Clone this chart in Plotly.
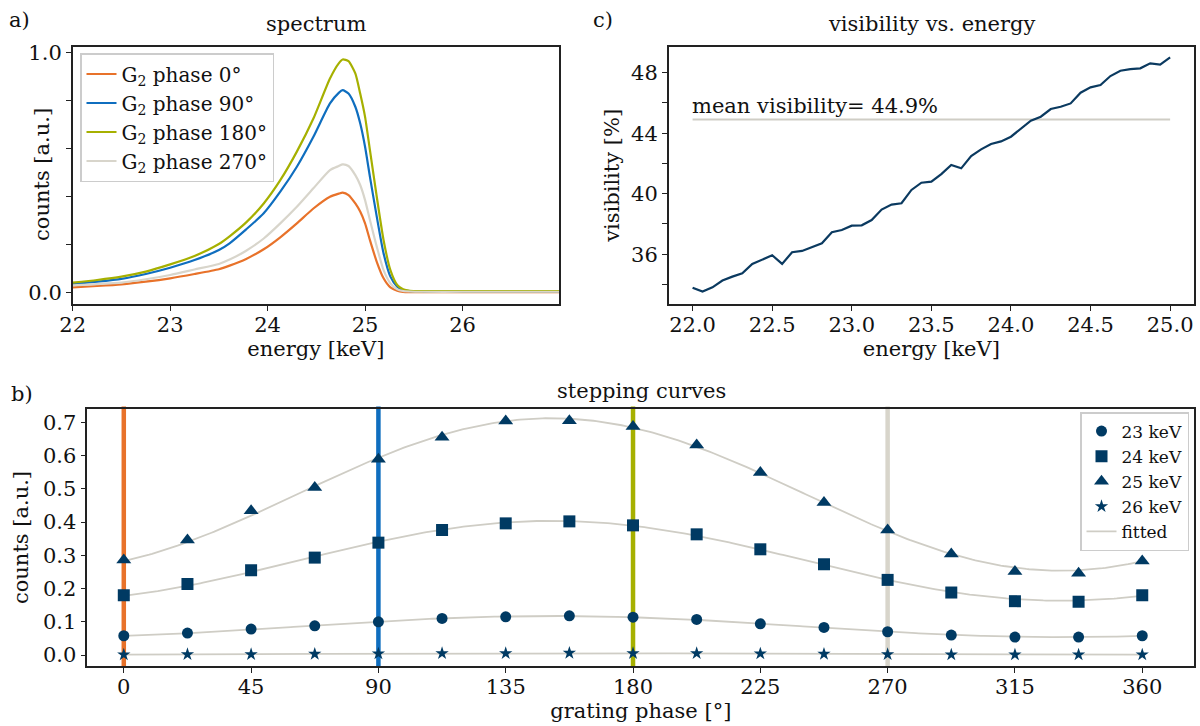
import numpy as np
import plotly.graph_objects as go

# ---------------- data ----------------
# panel a: spectrum
spec_energy = [22.0, 22.25, 22.5, 22.75, 23.0, 23.25, 23.5, 23.61, 23.78, 23.96, 24.13, 24.30,
               24.47, 24.64, 24.73, 24.77, 24.83, 24.90, 24.95, 25.0, 25.05, 25.12, 25.19, 25.26,
               25.33, 25.39, 25.46, 25.6, 26.0, 26.5, 26.99]
spec_phase0 = [0.022, 0.028, 0.035, 0.046, 0.060, 0.078, 0.098, 0.113, 0.141, 0.181, 0.231, 0.289,
               0.351, 0.400, 0.413, 0.417, 0.407, 0.372, 0.338, 0.289, 0.219, 0.129, 0.060, 0.022,
               0.008, 0.003, 0.002, 0.002, 0.002, 0.002, 0.002]
spec_phase90 = [0.036, 0.046, 0.058, 0.078, 0.104, 0.136, 0.178, 0.206, 0.264, 0.331, 0.421, 0.525,
                0.650, 0.789, 0.833, 0.844, 0.830, 0.775, 0.706, 0.608, 0.483, 0.317, 0.164, 0.067,
                0.025, 0.011, 0.007, 0.006, 0.006, 0.006, 0.006]
spec_phase180 = [0.042, 0.053, 0.067, 0.088, 0.118, 0.153, 0.203, 0.235, 0.293, 0.372, 0.469, 0.588,
                 0.726, 0.893, 0.956, 0.972, 0.965, 0.914, 0.830, 0.733, 0.594, 0.400, 0.219, 0.094,
                 0.032, 0.014, 0.008, 0.007, 0.007, 0.007, 0.007]
spec_phase270 = [0.031, 0.036, 0.042, 0.056, 0.074, 0.097, 0.120, 0.138, 0.175, 0.226, 0.289, 0.358,
                 0.435, 0.511, 0.528, 0.535, 0.528, 0.490, 0.449, 0.386, 0.303, 0.192, 0.094, 0.039,
                 0.014, 0.007, 0.005, 0.004, 0.004, 0.004, 0.004]
spec_labels = ["G<sub>2</sub> phase 0°", "G<sub>2</sub> phase 90°",
               "G<sub>2</sub> phase 180°", "G<sub>2</sub> phase 270°"]

# panel c: visibility vs energy
vis_energy = [22.0, 22.0625, 22.125, 22.1875, 22.25, 22.3125, 22.375, 22.4375, 22.5, 22.5625,
              22.625, 22.6875, 22.75, 22.8125, 22.875, 22.9375, 23.0, 23.0625, 23.125, 23.1875,
              23.25, 23.3125, 23.375, 23.4375, 23.5, 23.5625, 23.625, 23.6875, 23.75, 23.8125,
              23.875, 23.9375, 24.0, 24.0625, 24.125, 24.1875, 24.25, 24.3125, 24.375, 24.4375,
              24.5, 24.5625, 24.625, 24.6875, 24.75, 24.8125, 24.875, 24.9375, 25.0]
vis_values = [33.79, 33.53, 33.81, 34.26, 34.52, 34.74, 35.36, 35.62, 35.93, 35.36,
              36.13, 36.22, 36.46, 36.72, 37.45, 37.60, 37.89, 37.91, 38.26, 38.95,
              39.28, 39.37, 40.25, 40.73, 40.80, 41.30, 41.90, 41.68, 42.49, 42.93,
              43.29, 43.46, 43.77, 44.32, 44.83, 45.09, 45.60, 45.75, 45.97, 46.68,
              47.03, 47.19, 47.78, 48.13, 48.24, 48.29, 48.62, 48.53, 49.01]
mean_visibility = 44.9

# panel b: stepping curves
phase = [0, 22.5, 45, 67.5, 90, 112.5, 135, 157.5, 180, 202.5, 225, 247.5, 270, 292.5, 315, 337.5, 360]
step_23 = [0.058, 0.066, 0.078, 0.088, 0.100, 0.110, 0.115, 0.118, 0.114, 0.107, 0.094, 0.083,
           0.070, 0.060, 0.054, 0.054, 0.058]
step_24 = [0.180, 0.214, 0.255, 0.293, 0.338, 0.376, 0.396, 0.402, 0.390, 0.363, 0.318, 0.273,
           0.226, 0.188, 0.162, 0.160, 0.180]
step_25 = [0.286, 0.346, 0.434, 0.504, 0.589, 0.655, 0.704, 0.705, 0.687, 0.632, 0.549, 0.459,
           0.376, 0.304, 0.251, 0.246, 0.283]
step_26 = [0.001, 0.002, 0.002, 0.003, 0.004, 0.005, 0.005, 0.006, 0.005, 0.005, 0.004, 0.003,
           0.002, 0.001, 0.001, 0.001, 0.001]
step_labels = ["23 keV", "24 keV", "25 keV", "26 keV"]
marked_phases = [0, 90, 180, 270]

# ---------------- style ----------------
phase_colors = ["#e8722a", "#0f6ebf", "#a6b000", "#d8d5cb"]
navy = "#003a63"
fit_color = "#cfcdc5"
FONT = "DejaVu Serif"
FS = 21
TXT = "#111111"
W, H = 1200, 726


def dx(px):
    return px / W


def dy(py):
    return 1 - py / H


fig = go.Figure()

# panel a traces
for vals, lab, col in zip([spec_phase0, spec_phase90, spec_phase180, spec_phase270], spec_labels, phase_colors):
    fig.add_trace(go.Scatter(x=spec_energy, y=vals, mode="lines", name=lab,
                             line=dict(color=col, width=2.2, shape="spline", smoothing=0.6),
                             xaxis="x", yaxis="y", legend="legend"))

# panel c traces
fig.add_trace(go.Scatter(x=[vis_energy[0], vis_energy[-1]], y=[mean_visibility, mean_visibility],
                         mode="lines", line=dict(color=fit_color, width=2), showlegend=False,
                         xaxis="x2", yaxis="y2"))
fig.add_trace(go.Scatter(x=vis_energy, y=vis_values, mode="lines", line=dict(color="#0b3a60", width=2.2),
                         showlegend=False, xaxis="x2", yaxis="y2"))

# panel b: fitted sinusoids (least squares from the measured points)
ph = np.deg2rad(np.array(phase, dtype=float))
A = np.column_stack([np.ones_like(ph), np.cos(ph), np.sin(ph)])
phi_fine = np.linspace(0, 360, 361)
pf = np.deg2rad(phi_fine)
Af = np.column_stack([np.ones_like(pf), np.cos(pf), np.sin(pf)])
for i, vals in enumerate([step_23, step_24, step_25, step_26]):
    coef, *_ = np.linalg.lstsq(A, np.array(vals), rcond=None)
    fig.add_trace(go.Scatter(x=phi_fine, y=Af @ coef, mode="lines", line=dict(color=fit_color, width=1.8),
                             name="fitted", showlegend=(i == 0), legendrank=1005,
                             xaxis="x3", yaxis="y3", legend="legend2"))

symbols = ["circle", "square", "triangle-up", "star"]
sizes = [11, 12, 13, 10]
for k, (vals, lab, sym, sz) in enumerate(zip([step_23, step_24, step_25, step_26], step_labels, symbols, sizes)):
    fig.add_trace(go.Scatter(x=phase, y=vals, mode="markers", name=lab, legendrank=1000 + k,
                             marker=dict(symbol=sym, size=sz, color=navy, line=dict(width=0)),
                             xaxis="x3", yaxis="y3", legend="legend2"))

# vertical phase markers
for p, col in zip(marked_phases, phase_colors):
    fig.add_shape(type="line", x0=p, x1=p, y0=0, y1=1.01, xref="x3", yref="y3 domain",
                  line=dict(color=col, width=4.5), layer="below")

axis_common = dict(showline=True, linecolor="#222", linewidth=1.5, mirror=True, ticks="outside",
                   ticklen=5, tickwidth=1.3, tickcolor="#222", showgrid=False, zeroline=False,
                   automargin=False,
                   tickfont=dict(family=FONT, size=FS, color=TXT),
                   title_font=dict(family=FONT, size=FS, color=TXT))
minor_common = dict(ticks="outside", ticklen=5, tickwidth=1.3, tickcolor="#222", showgrid=False)

fig.update_layout(
    width=W, height=H, margin=dict(l=0, r=0, t=0, b=0, autoexpand=False), autosize=False,
    plot_bgcolor="white", paper_bgcolor="white",
    font=dict(family=FONT, size=FS, color=TXT),
    xaxis=dict(axis_common, domain=[dx(72.7), dx(559)], range=[22, 26.99],
               tickvals=[22, 23, 24, 25, 26], anchor="y", ticklabelstandoff=-4,
               title=dict(text="energy [keV]", standoff=1)),
    yaxis=dict(axis_common, domain=[dy(304), dy(47)], range=[-0.047, 1.024],
               tickvals=[0, 1.0], ticktext=["0.0", "1.0"], anchor="x",
               minor=dict(minor_common, tickvals=[0.2, 0.4, 0.6, 0.8])),
    xaxis2=dict(axis_common, domain=[dx(668.7), dx(1194)], range=[21.85, 25.15],
                tickvals=[22, 22.5, 23, 23.5, 24, 24.5, 25], ticklabelstandoff=-4,
                ticktext=["22.0", "22.5", "23.0", "23.5", "24.0", "24.5", "25.0"], anchor="y2",
                title=dict(text="energy [keV]", standoff=1)),
    yaxis2=dict(axis_common, domain=[dy(304), dy(46.7)], range=[32.71, 49.72],
                tickvals=[36, 40, 44, 48], anchor="x2",
                minor=dict(minor_common, tickvals=[34, 38, 42, 46]),
                title=dict(text="visibility [%]", standoff=6)),
    xaxis3=dict(axis_common, domain=[dx(87.3), dx(1194.3)], range=[-12.9, 378.4],
                tickvals=[0, 45, 90, 135, 180, 225, 270, 315, 360], anchor="y3", ticklabelstandoff=-4,
                title=dict(text="grating phase [°]", standoff=1)),
    yaxis3=dict(axis_common, domain=[dy(666), dy(409)], range=[-0.033, 0.740],
                tickvals=[0, 0.1, 0.2, 0.3, 0.4, 0.5, 0.6, 0.7],
                ticktext=["0.0", "0.1", "0.2", "0.3", "0.4", "0.5", "0.6", "0.7"], anchor="x3",
                title=dict(text="counts [a.u.]", standoff=9)),
    legend=dict(x=dx(80), y=dy(53), xanchor="left", yanchor="top",
                bgcolor="rgba(255,255,255,0.85)", bordercolor="#cccccc", borderwidth=1.5,
                font=dict(family=FONT, size=20, color=TXT), itemwidth=30, tracegroupgap=0),
    legend2=dict(x=dx(1189), y=dy(412), xanchor="right", yanchor="top",
                 bgcolor="rgba(255,255,255,0.85)", bordercolor="#cccccc", borderwidth=1.5,
                 font=dict(family=FONT, size=17, color=TXT), itemwidth=30, tracegroupgap=0),
    showlegend=True,
)

ann = [
    dict(text="a)", x=dx(7), y=dy(20), xanchor="left", yanchor="middle"),
    dict(text="c)", x=dx(591), y=dy(20), xanchor="left", yanchor="middle"),
    dict(text="b)", x=dx(9), y=dy(394), xanchor="left", yanchor="middle"),
    dict(text="spectrum", x=dx(316), y=dy(24), xanchor="center", yanchor="middle"),
    dict(text="visibility vs. energy", x=dx(931), y=dy(24), xanchor="center", yanchor="middle"),
    dict(text="stepping curves", x=dx(641), y=dy(391), xanchor="center", yanchor="middle"),
    dict(text="counts [a.u.]", x=dx(42), y=dy(175), xanchor="center", yanchor="middle", textangle=-90),
]
for a in ann:
    fig.add_annotation(xref="paper", yref="paper", showarrow=False,
                       font=dict(family=FONT, size=FS, color=TXT), **a)

fig.add_annotation(xref="x2", yref="y2", x=vis_energy[0], y=mean_visibility, xanchor="left", yanchor="bottom",
                   text=f"mean visibility= {mean_visibility}%", showarrow=False, xshift=-3, yshift=0,
                   font=dict(family=FONT, size=FS, color=TXT))

fig.write_html("out.html", config={"displayModeBar": False},
               post_script="document.body.style.margin='0';document.body.style.overflow='hidden';")
